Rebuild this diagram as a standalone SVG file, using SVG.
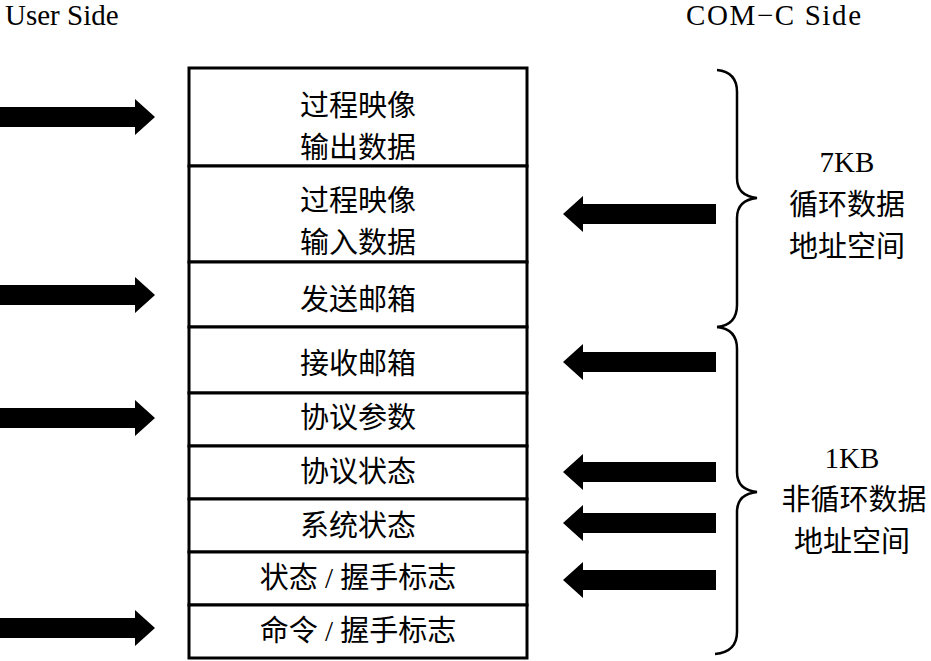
<svg xmlns="http://www.w3.org/2000/svg" width="931" height="661" viewBox="0 0 931 661">
<style>
.cell{fill:#fff;stroke:#000;stroke-width:3}
.t{font-family:"Liberation Serif","Noto Sans CJK SC",serif;font-size:29px;fill:#000;text-anchor:middle}
.h{font-family:"Liberation Serif","Noto Sans CJK SC",serif;font-size:29px;fill:#000}
.arr{fill:#000}
.brace{fill:none;stroke:#000;stroke-width:2.5}
</style>
<rect width="931" height="661" fill="#fff"/>
<text class="h" x="5" y="25">User Side</text>
<text class="h" x="686" y="25" textLength="175" lengthAdjust="spacing">COM−C Side</text>

<g id="row1"><rect class="cell" x="189" y="68" width="338" height="98"/><text class="t" x="358" y="116">过程映像</text><text class="t" x="358" y="158">输出数据</text></g>
<g id="row2"><rect class="cell" x="189" y="166" width="338" height="96"/><text class="t" x="358" y="211">过程映像</text><text class="t" x="358" y="253">输入数据</text></g>
<g id="row3"><rect class="cell" x="189" y="262" width="338" height="65"/><text class="t" x="358" y="310">发送邮箱</text></g>
<g id="row4"><rect class="cell" x="189" y="327" width="338" height="66"/><text class="t" x="358" y="374">接收邮箱</text></g>
<g id="row5"><rect class="cell" x="189" y="393" width="338" height="53"/><text class="t" x="358" y="428">协议参数</text></g>
<g id="row6"><rect class="cell" x="189" y="446" width="338" height="53"/><text class="t" x="358" y="482">协议状态</text></g>
<g id="row7"><rect class="cell" x="189" y="499" width="338" height="53"/><text class="t" x="358" y="536">系统状态</text></g>
<g id="row8"><rect class="cell" x="189" y="552" width="338" height="53"/><text class="t" x="358" y="588">状态 / 握手标志</text></g>
<g id="row9"><rect class="cell" x="189" y="605" width="338" height="53"/><text class="t" x="358" y="641">命令 / 握手标志</text></g>

<g id="connectors">
<polygon class="arr" points="0,107 135,107 135,99 155,117 135,135 135,127 0,127"/>
<polygon class="arr" points="0,285 135,285 135,277 155,295 135,313 135,305 0,305"/>
<polygon class="arr" points="0,408 135,408 135,400 155,418 135,436 135,428 0,428"/>
<polygon class="arr" points="0,618 135,618 135,610 155,628 135,646 135,638 0,638"/>
<polygon class="arr" points="716,204 583,204 583,196 563,214 583,232 583,224 716,224"/>
<polygon class="arr" points="716,352 583,352 583,344 563,362 583,380 583,372 716,372"/>
<polygon class="arr" points="716,462 583,462 583,454 563,472 583,490 583,482 716,482"/>
<polygon class="arr" points="716,513 583,513 583,505 563,523 583,541 583,533 716,533"/>
<polygon class="arr" points="716,570 583,570 583,562 563,580 583,598 583,590 716,590"/>
<path class="brace" d="M717,70 Q737,72 737,92 L737,178 Q737,196 757,198 Q737,200 737,218 L737,305 Q737,325 717,327"/>
<path class="brace" d="M717,327 Q737,329 737,349 L737,472 Q737,490 757,492 Q737,494 737,512 L737,632 Q737,652 715,654"/>
</g>

<g id="label7kb">
<text class="t" x="847" y="172">7KB</text>
<text class="t" x="847" y="215">循环数据</text>
<text class="t" x="847" y="257">地址空间</text>
</g>
<g id="label1kb">
<text class="t" x="852" y="468">1KB</text>
<text class="t" x="854" y="510">非循环数据</text>
<text class="t" x="852" y="552">地址空间</text>
</g>
</svg>
